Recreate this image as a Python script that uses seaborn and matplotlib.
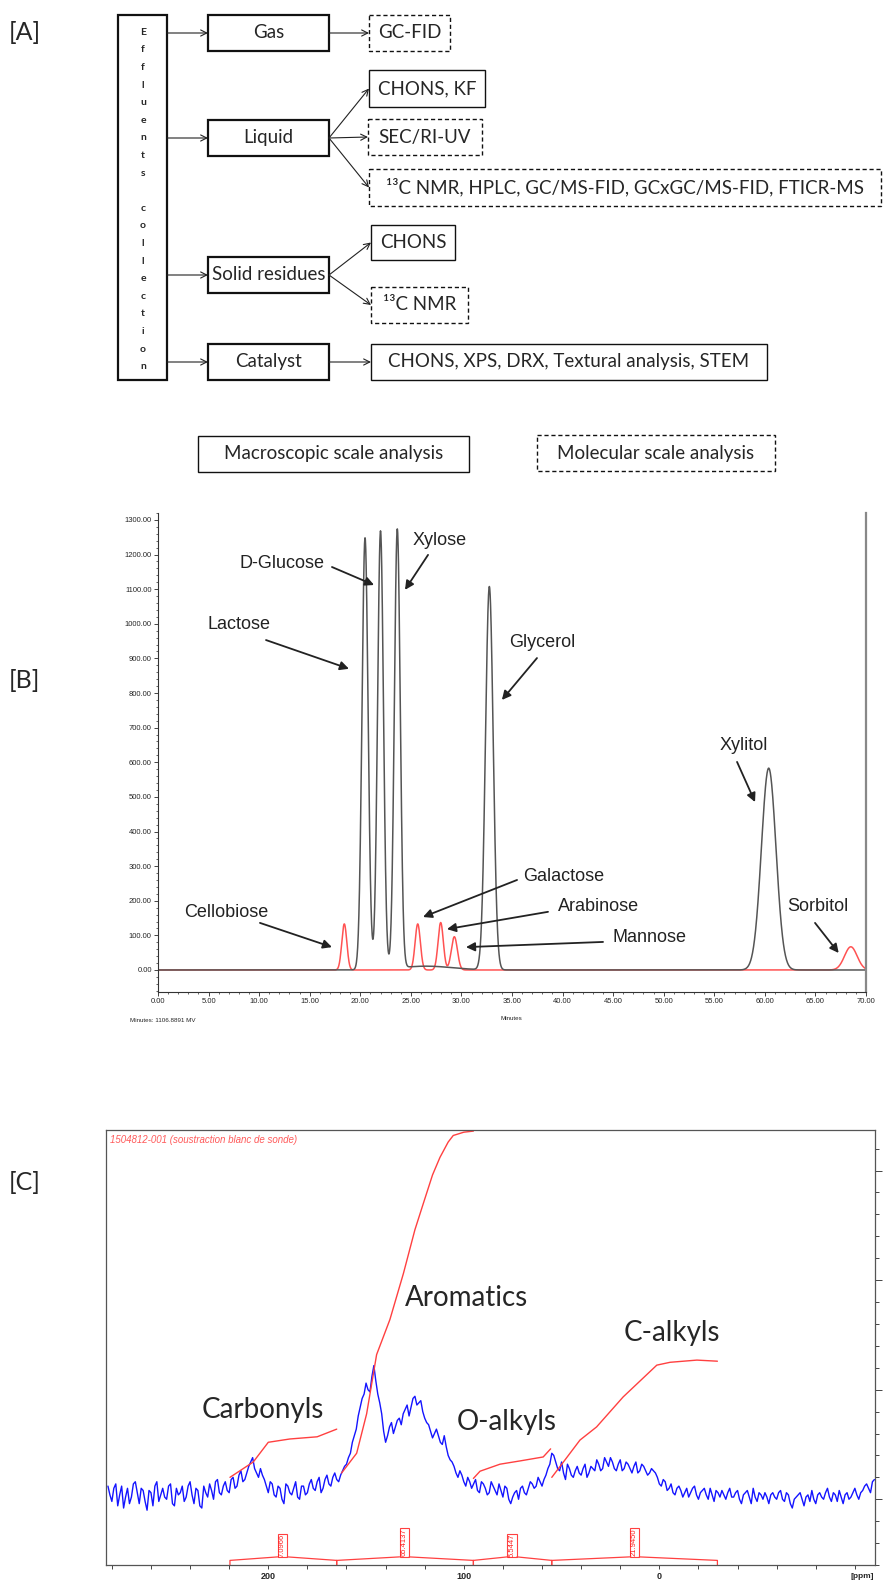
import numpy as np
import pandas as pd
import matplotlib
matplotlib.use("Agg")
import matplotlib.pyplot as plt
import seaborn as sns
from matplotlib.patches import Rectangle
from matplotlib.ticker import MultipleLocator, FuncFormatter

sns.set_style("white")
plt.rcParams['font.family'] = ['Lato', 'DejaVu Sans']

W, H = 883, 1582

# ---------------- data ----------------
# [A] analysis scheme
phases = ['Gas', 'Liquid', 'Solid residues', 'Catalyst']
analyses = ['GC-FID', 'CHONS, KF', 'SEC/RI-UV',
            '¹³C NMR, HPLC, GC/MS-FID, GCxGC/MS-FID, FTICR-MS',
            'CHONS', '¹³C NMR', 'CHONS, XPS, DRX, Textural analysis, STEM']
analysis_phase = [0, 1, 1, 1, 2, 2, 3]
analysis_molecular = [True, False, True, True, False, True, False]
legend_labels = ['Macroscopic scale analysis', 'Molecular scale analysis']

# [B] HPLC chromatogram peaks (retention time, height, width)
black_names = ['Lactose', 'D-Glucose', 'Xylose', 'Glycerol', 'Xylitol', '']
black_rt = [20.47, 22.0, 23.66, 32.76, 60.38, 26.5]
black_h = [1248, 1266, 1268, 1107, 583, 11]
black_w = [0.30, 0.29, 0.29, 0.38, 0.72, 2.6]
red_names = ['Cellobiose', 'Galactose', 'Arabinose', 'Mannose', 'Sorbitol']
red_rt = [18.42, 25.68, 27.95, 29.3, 68.5]
red_h = [133, 133, 137, 96, 67]
red_w = [0.25, 0.26, 0.26, 0.30, 0.62]

# [C] 13C NMR spectrum: even ppm (282 -> -110) and odd ppm (281 -> -109)
nmr_ppm_even = np.arange(282, -112, -2)
nmr_int_even = [0.6, -0.1, 0.7, 0.2, -0.4, 0.5, 0.1, 0.8, -0.2, 0.4,
                -0.5, 0.3, 0.6, -0.1, 0.5, 0.0, 0.7, -0.3, 0.2, 0.6,
                0.1, 0.8, -0.2, 0.4, -0.4, 0.3, 0.7, 0.0, 0.9, 0.2,
                0.8, 0.3, 1.0, 0.6, 1.3, 0.9, 1.5, 1.9, 1.2, 1.4,
                0.9, 0.3, 0.7, 0.1, 0.5, -0.2, 0.6, 0.2, 0.8, 0.0,
                0.6, 0.3, 0.9, 0.4, 1.0, 0.5, 1.1, 0.6, 1.2, 0.8,
                1.3, 1.6, 2.1, 2.9, 3.8, 4.6, 5.3, 4.9, 6.1, 4.8,
                3.9, 2.6, 3.3, 3.0, 3.6, 3.4, 4.1, 3.8, 4.6, 4.3,
                4.5, 3.7, 3.4, 2.8, 3.2, 2.6, 2.9, 2.0, 1.7, 1.2,
                1.3, 0.8, 1.0, 0.5, 0.9, 0.3, 0.7, 0.2, 0.8, 0.4,
                0.7, 0.1, 0.5, -0.2, 0.3, 0.0, 0.6, 0.2, 0.8, 0.5,
                1.0, 0.6, 1.1, 1.6, 2.0, 1.4, 1.7, 0.9, 1.4, 1.0,
                1.5, 1.1, 1.6, 1.2, 1.4, 1.8, 1.3, 1.9, 1.5, 1.7,
                1.3, 1.8, 1.4, 1.6, 1.2, 1.7, 1.3, 1.5, 1.1, 1.4,
                1.2, 0.7, 0.9, 0.4, 0.7, 0.2, 0.6, 0.1, 0.5, 0.3,
                0.6, 0.0, 0.4, 0.2, 0.5, -0.1, 0.3, 0.4, 0.0, 0.5,
                0.1, 0.4, -0.2, 0.3, 0.1, 0.5, -0.1, 0.2, 0.3, -0.2,
                0.3, 0.0, 0.4, -0.1, 0.2, -0.4, 0.1, 0.3, -0.3, 0.2,
                0.4, -0.2, 0.3, 0.0, 0.5, -0.1, 0.2, 0.4, -0.2, 0.3,
                0.1, 0.5, 0.0, 0.4, 0.7, 0.3, 0.9]
nmr_ppm_odd = np.arange(281, -111, -2)
nmr_int_odd = [0.2, 0.5, -0.3, 0.6, 0.1, -0.2, 0.7, 0.3, 0.5, -0.1,
               0.4, -0.3, 0.8, 0.2, 0.1, 0.6, -0.2, 0.5, 0.3, -0.1,
               0.6, 0.2, 0.5, -0.3, 0.6, 0.1, 0.4, 0.8, 0.3, 0.6,
               0.4, 0.9, 0.5, 1.1, 0.8, 1.2, 1.7, 1.4, 1.0, 1.1,
               0.6, 0.8, 0.2, 0.6, 0.0, 0.7, 0.3, 0.5, 0.1, 0.6,
               0.2, 0.7, 0.5, 0.8, 0.3, 0.9, 0.7, 1.0, 0.9, 1.1,
               1.5, 1.9, 2.6, 3.2, 4.2, 4.8, 5.0, 5.6, 5.4, 4.4,
               3.1, 2.9, 3.5, 3.3, 3.7, 3.9, 4.3, 4.2, 4.7, 4.4,
               4.0, 3.5, 3.1, 3.0, 2.9, 2.5, 2.4, 1.8, 1.5, 1.0,
               1.1, 0.6, 0.8, 0.7, 0.4, 0.8, 0.5, 0.3, 0.6, 0.2,
               0.4, 0.6, 0.0, 0.1, 0.4, 0.5, 0.3, 0.5, 0.7, 0.6,
               0.8, 0.9, 1.4, 2.1, 1.7, 1.3, 1.2, 1.6, 1.1, 1.3,
               1.2, 1.4, 1.0, 1.5, 1.3, 1.6, 1.4, 1.7, 1.9, 1.4,
               1.6, 1.3, 1.7, 1.4, 1.5, 1.2, 1.6, 1.3, 1.2, 1.3,
               1.0, 0.6, 0.8, 0.5, 0.3, 0.5, 0.4, 0.3, 0.1, 0.5,
               0.2, 0.3, 0.5, 0.0, 0.2, 0.4, 0.1, 0.2, 0.3, 0.1,
               0.3, 0.0, 0.2, 0.4, -0.2, 0.1, 0.3, 0.0, 0.1, 0.2,
               0.1, 0.3, 0.0, 0.3, -0.2, 0.0, 0.2, 0.0, 0.1, -0.1,
               0.0, 0.2, 0.1, 0.3, 0.1, 0.3, -0.1, 0.1, 0.2, 0.0,
               0.3, 0.2, 0.3, 0.6, 0.5, 0.8]

# integral curves
int_carb_ppm = [219.6, 207.7, 200.0, 189.0, 175.0, 165.0]
int_carb_val = [1.0, 1.7, 2.6, 2.75, 2.85, 3.2]
int_arom_ppm = [162.5, 154.8, 149.7, 144.6, 137.8, 130.9, 125.0, 120.7, 116.0, 112.2, 108.0, 105.4, 100.0, 95.1]
int_arom_val = [1.2, 2.1, 3.9, 6.6, 8.2, 10.3, 12.3, 13.5, 14.8, 15.6, 16.3, 16.6, 16.75, 16.8]
int_oalk_ppm = [95.1, 91.7, 81.5, 71.2, 59.4, 55.6]
int_oalk_val = [0.95, 1.28, 1.6, 1.75, 1.93, 2.3]
int_calk_ppm = [55.0, 40.6, 32.1, 18.5, 1.3, -5.5, -19.2, -29.7]
int_calk_val = [1.0, 2.7, 3.3, 4.67, 6.12, 6.25, 6.35, 6.3]

region_bounds = [219.6, 165.0, 95.1, 55.0, -29.7]
region_values = ['7.0966', '65.4137', '5.5447', '21.9450']
region_label_ppm = [192.7, 130.4, 75.3, 12.7]

# ---------------- figure ----------------
fig = plt.figure(figsize=(W / 100, H / 100), dpi=100)
fig.patch.set_facecolor('white')

# overlay canvas in pixel coords
ax0 = fig.add_axes([0, 0, 1, 1], zorder=5)
ax0.patch.set_alpha(0)
ax0.set_xlim(0, W)
ax0.set_ylim(H, 0)
ax0.axis('off')


def box(x0, y0, x1, y1, lw=1.0, dashed=False):
    ls = (0, (3, 2)) if dashed else '-'
    ax0.add_patch(Rectangle((x0, y0), x1 - x0, y1 - y0, fill=False, lw=lw, ls=ls, ec='#111'))


def arrow(x0, y0, x1, y1):
    ax0.annotate('', xy=(x1, y1), xytext=(x0, y0),
                 arrowprops=dict(arrowstyle='->', lw=0.8, color='#222',
                                 shrinkA=0, shrinkB=0, mutation_scale=11))


# ---- [A] ----
ax0.text(9, 33, '[A]', fontsize=18, va='center', ha='left')
box(118, 15, 167, 380, lw=1.6)
for i, ch in enumerate('Effluents collection'):
    ax0.text(143, 32.3 + i * 17.6, ch, fontsize=7.5, fontweight='bold', ha='center', va='center')

phase_top = [15, 120, 257, 344]
for name, top in zip(phases, phase_top):
    box(208, top, 329, top + 36, lw=1.6)
    ax0.text(268.5, top + 18, name, fontsize=13.5, ha='center', va='center')
    arrow(167, top + 18, 208, top + 18)

an_box = [(369, 15, 450, 51), (369, 70, 485, 107), (368, 119, 482, 155),
          (369, 169, 881, 206), (371, 225, 455, 260), (371, 287, 468, 323),
          (371, 344, 767, 380)]
for label, ph, mol, (x0, y0, x1, y1) in zip(analyses, analysis_phase, analysis_molecular, an_box):
    box(x0, y0, x1, y1, lw=1.0, dashed=mol)
    ax0.text((x0 + x1) / 2, (y0 + y1) / 2, label, fontsize=13.5, ha='center', va='center')
    py = phase_top[ph] + 18
    arrow(329, py, x0, (y0 + y1) / 2)

for label, (x0, y0, x1, y1), mol in zip(legend_labels, [(198, 436, 469, 472), (537, 435, 775, 471)], [False, True]):
    box(x0, y0, x1, y1, lw=1.0, dashed=mol)
    ax0.text((x0 + x1) / 2, (y0 + y1) / 2, label, fontsize=13.5, ha='center', va='center')

# ---- [B] ----
ax0.text(9, 681, '[B]', fontsize=18, va='center', ha='left')
axb = fig.add_axes([158 / W, 1 - 992 / H, (866 - 158) / W, (992 - 513) / H])
t = np.linspace(0, 70, 3501)
black = np.zeros_like(t)
for c, h, w in zip(black_rt, black_h, black_w):
    black += h * np.exp(-0.5 * ((t - c) / w) ** 2)
red = np.zeros_like(t)
for c, h, w in zip(red_rt, red_h, red_w):
    red += h * np.exp(-0.5 * ((t - c) / w) ** 2)
chrom = pd.DataFrame({'Minutes': np.concatenate([t, t]),
                      'MV': np.concatenate([red, black]),
                      'trace': ['red'] * len(t) + ['black'] * len(t)})
sns.lineplot(data=chrom, x='Minutes', y='MV', hue='trace',
             palette={'red': '#ff5252', 'black': '#555555'},
             hue_order=['red', 'black'], estimator=None, sort=False,
             lw=1.1, legend=False, ax=axb)
axb.set_xlim(0, 70)
axb.set_ylim(-63.6, 1320)
axb.set_xlabel('')
axb.set_ylabel('')
axb.xaxis.set_major_locator(MultipleLocator(5))
axb.xaxis.set_minor_locator(MultipleLocator(1))
axb.yaxis.set_major_locator(MultipleLocator(100))
axb.yaxis.set_minor_locator(MultipleLocator(20))
fmt = FuncFormatter(lambda v, p: f'{v:.2f}')
axb.xaxis.set_major_formatter(fmt)
axb.yaxis.set_major_formatter(fmt)
axb.tick_params(which='major', direction='out', length=3, width=0.6, labelsize=5.5, pad=1.5,
                bottom=True, left=True)
axb.tick_params(which='minor', direction='out', length=1.5, width=0.5, bottom=True, left=True)
for lab in axb.get_xticklabels() + axb.get_yticklabels():
    lab.set_family('Liberation Sans')
axb.spines['top'].set_visible(False)
axb.spines['right'].set_color('#888')
axb.spines['right'].set_linewidth(1.6)
for s in ['left', 'bottom']:
    axb.spines[s].set_color('#333')
    axb.spines[s].set_linewidth(0.8)

b_text = {'Lactose': (8.03, 997), 'D-Glucose': (12.26, 1173), 'Xylose': (27.83, 1242),
          'Glycerol': (38.0, 945), 'Xylitol': (57.94, 647), 'Cellobiose': (6.77, 165),
          'Galactose': (40.09, 269), 'Arabinose': (43.55, 182), 'Mannose': (48.55, 95),
          'Sorbitol': (65.2, 182)}
b_arrow = {'Lactose': ((10.68, 953), (18.88, 870)), 'D-Glucose': ((17.2, 1164), (21.36, 1112)),
           'Xylose': ((26.7, 1199), (24.42, 1098)), 'Glycerol': ((37.47, 901), (34.0, 780)),
           'Xylitol': ((57.25, 601), (59.03, 485)), 'Cellobiose': ((10.08, 136), (17.2, 66)),
           'Galactose': ((35.5, 260), (26.2, 153)), 'Arabinose': ((38.56, 168), (28.57, 118)),
           'Mannose': ((44.0, 81), (30.45, 66)), 'Sorbitol': ((64.96, 136), (67.3, 49))}
for name in b_text:
    axb.text(*b_text[name], name, fontsize=13, ha='center', va='center', family='Liberation Sans',
             color='#222')
    tail, head = b_arrow[name]
    axb.annotate('', xy=head, xytext=tail,
                 arrowprops=dict(arrowstyle='-|>', lw=1.3, color='#222',
                                 shrinkA=0, shrinkB=0, mutation_scale=13))
ax0.text(130, 1021, 'Minutes: 1106.8891 MV', fontsize=4.5, ha='left', va='center', family='Liberation Sans')
ax0.text(511, 1018, 'Minutes', fontsize=4.5, ha='center', va='center', family='Liberation Sans')

# ---- [C] ----
ax0.text(9, 1182, '[C]', fontsize=18, va='center', ha='left')
axc = fig.add_axes([106 / W, 1 - 1565 / H, (875 - 106) / W, (1565 - 1130) / H])
nmr = pd.concat([pd.DataFrame({'ppm': nmr_ppm_even, 'intensity': nmr_int_even}),
                 pd.DataFrame({'ppm': nmr_ppm_odd, 'intensity': nmr_int_odd})])
nmr = nmr.sort_values('ppm', ascending=False)
sns.lineplot(data=nmr, x='ppm', y='intensity', color='#1414ff', lw=1.0,
             estimator=None, sort=False, ax=axc)
for xs, ys in [(int_carb_ppm, int_carb_val), (int_arom_ppm, int_arom_val),
               (int_oalk_ppm, int_oalk_val), (int_calk_ppm, int_calk_val)]:
    sns.lineplot(x=xs, y=ys, color='#ff4040', lw=1.0, estimator=None, sort=False, ax=axc)

for i, val in enumerate(region_values):
    lo, hi = region_bounds[i], region_bounds[i + 1]
    c = region_label_ppm[i]
    top = -1.3 if len(val) > 6 else -1.57
    axc.plot([lo, lo, c + 2.45], [-3.0, -2.79, -2.63], color='#ff4040', lw=0.9)
    axc.plot([c - 2.45, hi, hi], [-2.63, -2.79, -3.0], color='#ff4040', lw=0.9)
    axc.add_patch(Rectangle((c - 2.45, -2.63), 4.9, top + 2.63, fill=False, ec='#ff4040', lw=0.8))
    axc.text(c, (top - 2.63) / 2, val, rotation=90, fontsize=5.5, color='#ff2020',
             ha='center', va='center', family='Liberation Sans')

axc.set_xlim(283.0, -110.3)
axc.set_ylim(-3.0, 16.85)
axc.set_xlabel('')
axc.set_ylabel('')
axc.set_xticks([200, 100, 0])
axc.xaxis.set_minor_locator(MultipleLocator(20))
axc.yaxis.tick_right()
axc.yaxis.set_major_locator(MultipleLocator(5))
axc.yaxis.set_minor_locator(MultipleLocator(1))
axc.set_yticklabels([])
axc.tick_params(axis='x', which='both', direction='out', length=3, width=0.6, labelsize=6.5, pad=2,
                bottom=True)
axc.tick_params(axis='y', which='major', direction='out', length=5, width=0.6, right=True, left=False)
axc.tick_params(axis='y', which='minor', direction='out', length=3, width=0.6, right=True, left=False)
for lab in axc.get_xticklabels():
    lab.set_fontweight('bold')
    lab.set_family('Liberation Sans')
for s in axc.spines.values():
    s.set_color('#555')
    s.set_linewidth(0.9)

ax0.text(862, 1577, '[ppm]', fontsize=6, fontweight='bold', ha='center', va='center', family='Liberation Sans')
ax0.text(110, 1140, '1504812-001 (soustraction blanc de sonde)', fontsize=7, style='italic',
         color='#ff5a5a', ha='left', va='center', family='Liberation Sans')
c_labels = {'Carbonyls': (263, 1410), 'Aromatics': (467, 1298), 'O-alkyls': (507, 1422), 'C-alkyls': (672, 1333)}
for name, (x, y) in c_labels.items():
    ax0.text(x, y, name, fontsize=20, ha='center', va='center')

fig.savefig('out.png', dpi=100)
